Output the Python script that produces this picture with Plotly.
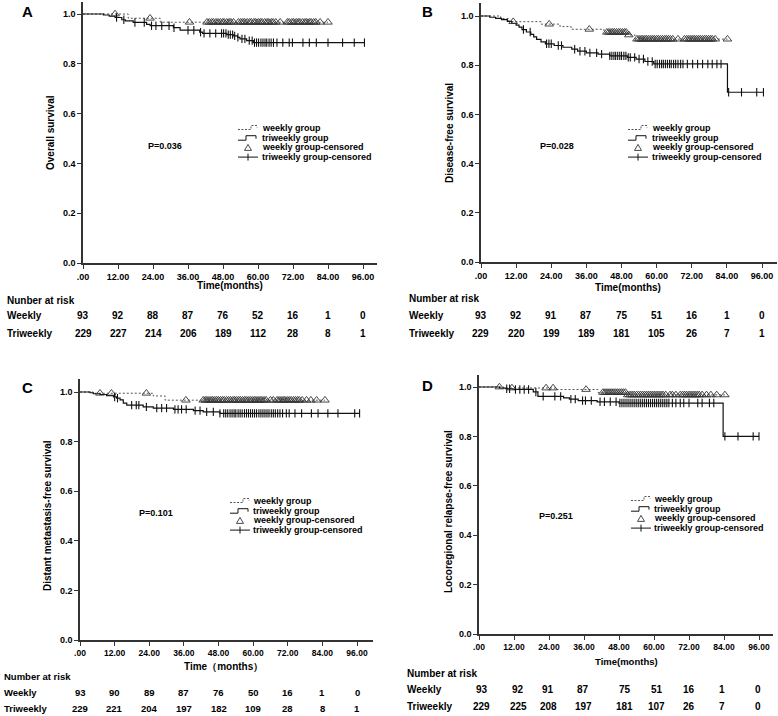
import plotly.graph_objects as go

# ---------------- data ----------------
tick_months = [0, 12, 24, 36, 48, 60, 72, 84, 96]
tick_labels = [".00", "12.00", "24.00", "36.00", "48.00", "60.00", "72.00", "84.00", "96.00"]
y_ticks = [0.0, 0.2, 0.4, 0.6, 0.8, 1.0]

# Panel A - overall survival
A_weekly_t = [15.5, 26.5]
A_weekly_s = [0.983, 0.967]
A_weekly_cens = [11, 23, 36.5, 42.5, 43.3, 44.1, 44.7, 45.6, 46.3, 47.1, 47.9, 48.4, 49.3, 50.1, 50.7, 51.6,
                 53.3, 54.1, 54.8, 55.4, 56.3, 57.1, 57.7, 58.6, 59.2, 60.1, 60.8, 61.4, 62.3, 63.1, 63.7, 64.6,
                 65.2, 66.1, 67.6, 70.1, 70.7, 71.6, 72.2, 73.1, 73.8, 74.4, 75.3, 76.1, 76.7, 77.6, 78.2,
                 79.1, 79.8, 81.3, 84]
A_tri_t = [7, 9, 11, 13.3, 14.5, 17.2, 21.8, 23, 31, 33.3, 40, 41, 49.3, 51.5, 53, 53.8, 56.1, 58.4]
A_tri_s = [0.996, 0.991, 0.986, 0.977, 0.972, 0.966, 0.958, 0.953, 0.945, 0.935, 0.927, 0.922, 0.917,
           0.912, 0.906, 0.9, 0.893, 0.885]
A_tri_cens = [11.5, 14, 17.8, 21, 23.5, 25, 27, 29.5, 31.2, 36, 38, 40.3, 41.5, 43.5, 45.5, 47.5, 48.2, 49,
              49.8, 50.5, 51.3, 52, 53.1, 54.5, 55.5, 57, 58, 58.8, 59.5, 60.2, 61, 61.7, 62.4, 63, 63.8,
              64.5, 65.3, 66.5, 68.5, 70.7, 71.8, 75.4, 77.6, 80, 84, 89, 93, 96.5]
A_risk_weekly = [93, 92, 88, 87, 76, 52, 16, 1, 0]
A_risk_tri = [229, 227, 214, 206, 189, 112, 28, 8, 1]

# Panel B - disease-free survival
B_weekly_t = [6.7, 9.5, 20.5, 27, 30.8, 42, 50.3, 52.6]
B_weekly_s = [0.99, 0.977, 0.967, 0.957, 0.946, 0.934, 0.923, 0.906]
B_weekly_cens = [11, 23.3, 37, 43, 43.7, 44.4, 45, 45.6, 46.3, 47, 47.6, 48.3, 49, 49.6, 50.5, 53.3, 54,
                 54.7, 55.3, 56, 56.6, 57.3, 58, 58.7, 59.3, 60, 60.6, 61.3, 62, 62.7, 63.3, 64, 64.7, 65.5,
                 67.3, 69.5, 70.3, 71, 71.7, 72.4, 73, 73.7, 74.4, 75, 75.7, 76.4, 77, 77.7, 78.4, 79, 80,
                 84.2]
B_tri_t = [3, 5, 7, 9, 10.5, 12, 13, 14, 15.5, 17, 18, 19, 20.5, 22, 25, 28, 31, 33, 36, 40, 44, 50, 53,
           56, 59, 84.2]
B_tri_s = [0.995, 0.99, 0.985, 0.978, 0.97, 0.963, 0.955, 0.945, 0.935, 0.925, 0.915, 0.905, 0.895, 0.887,
           0.88, 0.873, 0.865, 0.857, 0.85, 0.845, 0.838, 0.832, 0.825, 0.815, 0.805, 0.69]
B_tri_cens = [14.5, 16.8, 22.4, 23.2, 24, 26.4, 27.5, 32, 33.8, 35.5, 37.2, 39.5, 41.2, 44, 44.7, 45.4, 46,
              46.7, 47.4, 48, 48.8, 49.5, 50.3, 51, 52.5, 54, 55.5, 57, 58.5, 59.5, 60.2, 61, 61.7, 62.3,
              63, 63.7, 64.4, 65, 65.8, 66.5, 67.3, 68.2, 69, 70.5, 72.3, 74, 75.7, 77.5, 79, 80.6, 82,
              84.6, 89, 94.2, 96.5]
B_risk_weekly = [93, 92, 91, 87, 75, 51, 16, 1, 0]
B_risk_tri = [229, 220, 199, 189, 181, 105, 26, 7, 1]

# Panel C - distant metastasis-free survival
C_weekly_t = [4.6, 25.4, 29.5]
C_weekly_s = [0.995, 0.984, 0.967]
C_weekly_cens = [6.9, 10.9, 23, 36.7, 42.7, 43.4, 44, 44.7, 45.4, 46, 46.7, 47.4, 48, 48.7, 49.4, 50, 50.8,
                 51.5, 52.2, 53, 53.6, 54.3, 55, 55.6, 56.3, 57, 57.6, 58.3, 59, 59.7, 60.4, 61, 61.7, 62.4,
                 63, 63.8, 64.5, 66, 67, 68.3, 69, 69.7, 70.4, 71, 71.8, 72.5, 73.2, 74, 74.7, 75.4, 76, 77,
                 78.5, 80, 82, 84.9]
C_tri_t = [3.5, 4.6, 6.9, 9.2, 11.6, 12.7, 13.9, 15, 16.2, 21.9, 25.4, 32.4, 39.3, 42.7, 48.5]
C_tri_s = [0.997, 0.993, 0.99, 0.985, 0.98, 0.975, 0.968, 0.955, 0.947, 0.94, 0.935, 0.93, 0.925, 0.92,
           0.914]
C_tri_cens = [12, 13, 17.9, 19.5, 20.4, 23, 26.6, 28.3, 30, 32.9, 34, 35.2, 36.8, 39.9, 41.6, 43.9, 46.2,
              48.5, 49.8, 50.5, 51.2, 52, 52.7, 53.4, 54, 54.8, 55.5, 56.2, 57, 57.7, 58.4, 59.1, 59.8,
              60.5, 61.2, 62, 62.7, 63.4, 64.1, 64.8, 65.5, 66.3, 67, 67.7, 68.5, 69.3, 70.2, 71.5, 72.5,
              74.5, 76.8, 80.2, 82.5, 85.9, 89.4, 95.2, 96.9]
C_risk_weekly = [93, 90, 89, 87, 76, 50, 16, 1, 0]
C_risk_tri = [229, 221, 204, 197, 182, 109, 28, 8, 1]

# Panel D - locoregional relapse-free survival
D_weekly_t = [8.5, 26, 40.8, 50.7]
D_weekly_s = [0.996, 0.99, 0.978, 0.968]
D_weekly_cens = [7, 11.3, 23, 25.4, 36.7, 42.5, 43.2, 43.9, 44.6, 45.3, 46, 46.7, 47.4, 48.1, 48.8, 49.5,
                 50.2, 51, 51.8, 52.5, 53.2, 54, 54.7, 55.4, 56.1, 56.8, 57.5, 58.2, 58.9, 59.6, 60.3, 61,
                 61.7, 62.4, 63.1, 64, 65.5, 66.3, 67.5, 69, 69.8, 70.5, 71.2, 72, 72.7, 73.4, 74.1, 74.8,
                 75.5, 76.5, 78, 79.5, 81.5, 84.3]
D_tri_t = [7, 9, 11.7, 18.6, 20.2, 29, 31, 34, 40.5, 48, 83.7]
D_tri_s = [0.996, 0.993, 0.99, 0.98, 0.962, 0.956, 0.951, 0.945, 0.94, 0.935, 0.8]
D_tri_cens = [9.5, 10.5, 12.5, 14, 15.5, 17, 19.5, 22, 26, 28, 31.5, 33, 35.5, 36.5, 38.5, 41.5, 43, 45, 47,
              48.3, 49, 49.7, 50.4, 51.1, 51.8, 52.5, 53.2, 53.9, 54.6, 55.3, 56, 56.7, 57.4, 58.1, 58.8,
              59.5, 60.2, 60.9, 61.6, 62.3, 63, 63.7, 64.4, 65.1, 66.3, 67.5, 69, 70.2, 72, 75, 76.5, 79,
              80.5, 84.3, 88.8, 94, 96]
D_risk_weekly = [93, 92, 91, 87, 75, 51, 16, 1, 0]
D_risk_tri = [229, 225, 208, 197, 181, 107, 26, 7, 0]

legend_labels = ["weekly group", "triweekly group", "weekly group-censored", "triweekly group-censored"]

# ---------------- layout helpers ----------------
W, H = 778, 716
def px(x):
    return x / W
def py(y):
    return 1 - y / H

REG = "Liberation Sans, Arial, sans-serif"

panels = [
    dict(name="A", wt=A_weekly_t, ws=A_weekly_s, wc=A_weekly_cens, tt=A_tri_t, ts=A_tri_s, tc=A_tri_cens,
         rw=A_risk_weekly, rt=A_risk_tri, cols=tick_months,
         x0=83, x96=363, xend=377, y1=14, y0=263, ytop=2,
         ylabel="Overall survival", ylab_xy=(50, 133), xlabel="Time(months)", xlab_xy=(230, 285.5),
         pval="P=0.036", p_xy=(165, 146), letter_xy=(27, 11), leg=(238, 128, 260),
         risk_label="Nunber at risk", risk_x=5, risk_y=(300.5, 316, 333), tick_size=9, risk_size=10,
         xlab_size=10),
    dict(name="B", wt=B_weekly_t, ws=B_weekly_s, wc=B_weekly_cens, tt=B_tri_t, ts=B_tri_s, tc=B_tri_cens,
         rw=B_risk_weekly, rt=B_risk_tri, cols=tick_months,
         x0=481, x96=762, xend=777, y1=16, y0=262, ytop=3,
         ylabel="Disease-free survival", ylab_xy=(449, 133), xlabel="Time(months)", xlab_xy=(628, 287),
         pval="P=0.028", p_xy=(557, 146), letter_xy=(427, 11), leg=(628, 128, 650),
         risk_label="Number at risk", risk_x=407, risk_y=(298.5, 315, 333), tick_size=9, risk_size=10,
         xlab_size=10),
    dict(name="C", wt=C_weekly_t, ws=C_weekly_s, wc=C_weekly_cens, tt=C_tri_t, ts=C_tri_s, tc=C_tri_cens,
         rw=C_risk_weekly, rt=C_risk_tri, cols=tick_months,
         x0=80, x96=357, xend=373, y1=392, y0=640, ytop=379,
         ylabel="Distant metastasis-free survival", ylab_xy=(47, 516), xlabel="Time\uff08months\uff09",
         xlab_xy=(223, 666), pval="P=0.101", p_xy=(156, 513), letter_xy=(27, 387), leg=(230, 501, 251),
         risk_label="Number at risk", risk_x=2, risk_y=(676, 692, 708), tick_size=8.5, risk_size=9.5,
         xlab_size=10),
    dict(name="D", wt=D_weekly_t, ws=D_weekly_s, wc=D_weekly_cens, tt=D_tri_t, ts=D_tri_s, tc=D_tri_cens,
         rw=D_risk_weekly, rt=D_risk_tri, cols=[1, 13.4, 23.7, 35.7, 50, 61, 72, 83.3, 95.6],
         x0=479, x96=759, xend=773, y1=387, y0=634, ytop=375,
         ylabel="Locoregional relapse-free survival", ylab_xy=(448, 512), xlabel="Time(months)",
         xlab_xy=(626, 661), pval="P=0.251", p_xy=(556, 516), letter_xy=(427, 385), leg=(631, 499, 652),
         risk_label="Number at risk", risk_x=405, risk_y=(673, 689, 706), tick_size=8.5, risk_size=10,
         xlab_size=9.5),
]

def step_xy(times, surv, end):
    xs, ys = [0], [1.0]
    for t, s in zip(times, surv):
        xs.append(t)
        ys.append(s)
    xs.append(end)
    ys.append(ys[-1])
    return xs, ys

def surv_at(times, surv, c):
    v = 1.0
    for t, s in zip(times, surv):
        if t <= c:
            v = s
    return v

fig = go.Figure()
annotations = []
shapes = []
LINE_C = "#333333"

for i, p in enumerate(panels):
    k = "" if i == 0 else str(i + 1)
    xa, ya = "x" + k, "y" + k
    ppm = (p["x96"] - p["x0"]) / 96.0
    xmax = (p["xend"] - p["x0"]) / ppm
    ppv = p["y0"] - p["y1"]
    ymax = (p["y0"] - p["ytop"]) / ppv

    # curves
    wx, wy = step_xy(p["wt"], p["ws"], max(p["wc"]))
    tx, ty = step_xy(p["tt"], p["ts"], max(p["tc"]))
    fig.add_trace(go.Scatter(x=wx, y=wy, mode="lines", line=dict(color="#555555", width=1, dash="2px,2px", shape="hv"),
                             xaxis=xa, yaxis=ya, showlegend=False, name=legend_labels[0]))
    fig.add_trace(go.Scatter(x=tx, y=ty, mode="lines", line=dict(color="#111111", width=1.2, shape="hv"),
                             xaxis=xa, yaxis=ya, showlegend=False, name=legend_labels[1]))
    fig.add_trace(go.Scatter(x=p["wc"], y=[surv_at(p["wt"], p["ws"], c) for c in p["wc"]], mode="markers",
                             marker=dict(symbol="triangle-up-open", size=7.5, color="#333333", line=dict(width=0.9)),
                             xaxis=xa, yaxis=ya, showlegend=False, name=legend_labels[2]))
    fig.add_trace(go.Scatter(x=p["tc"], y=[surv_at(p["tt"], p["ts"], c) for c in p["tc"]], mode="markers",
                             marker=dict(symbol="line-ns-open", size=6, color="#111111", line=dict(width=1.1, color="#111111")),
                             xaxis=xa, yaxis=ya, showlegend=False, name=legend_labels[3]))

    axis_common = dict(showgrid=False, zeroline=False, showline=True, linecolor=LINE_C, linewidth=1.5,
                       ticks="outside", ticklen=4, tickwidth=1, tickcolor=LINE_C, automargin=False)
    fig.update_layout(**{
        ("xaxis" + k): dict(axis_common, domain=[px(p["x0"]), px(p["xend"])], range=[0, xmax],
                             tickvals=tick_months, ticktext=tick_labels, anchor=ya,
                             tickfont=dict(family=REG, size=p["tick_size"], color="black", weight="bold")),
        ("yaxis" + k): dict(axis_common, domain=[py(p["y0"]), py(p["ytop"])], range=[0, ymax],
                             tickvals=y_ticks, tickformat=".1f", anchor=xa,
                             tickfont=dict(family=REG, size=9, color="black", weight="bold")),
    })

    # texts
    def ann(text, x, y, size=9, xanchor="center", angle=0, xref="paper"):
        annotations.append(dict(text=text, x=x, y=py(y), xref=xref, yref="paper", xanchor=xanchor,
                                yanchor="middle", showarrow=False, textangle=angle,
                                font=dict(family=REG, size=size, color="black", weight="bold")))

    ann(p["name"], px(p["letter_xy"][0]), p["letter_xy"][1], size=15)
    ann(p["ylabel"], px(p["ylab_xy"][0]), p["ylab_xy"][1], size=10, angle=-90)
    ann(p["xlabel"], px(p["xlab_xy"][0]), p["xlab_xy"][1], size=p["xlab_size"])
    ann(p["pval"], px(p["p_xy"][0]), p["p_xy"][1], size=9)
    ry = p["risk_y"]
    rs = p["risk_size"]
    ann(p["risk_label"], px(p["risk_x"]), ry[0], size=rs, xanchor="left")
    ann("Weekly", px(p["risk_x"]), ry[1], size=rs, xanchor="left")
    ann("Triweekly", px(p["risk_x"]), ry[2], size=rs, xanchor="left")
    for c, vw, vt in zip(p["cols"], p["rw"], p["rt"]):
        ann(str(vw), c, ry[1], size=rs, xref=xa)
        ann(str(vt), c, ry[2], size=rs, xref=xa)

    # legend (drawn inside the panel)
    lx, ly, tx0 = p["leg"]
    gap = 9.7
    for j, lab in enumerate(legend_labels):
        ann(lab, px(tx0), ly + j * gap, size=9, xanchor="left")
    def path(pts):
        return "M " + " L ".join(f"{px(a):.5f},{py(b):.5f}" for a, b in pts)
    shapes.append(dict(type="path", xref="paper", yref="paper",
                       path=path([(lx, ly + 1.5), (lx + 13, ly + 1.5), (lx + 13, ly - 2.5), (lx + 19, ly - 2.5), (lx + 19, ly - 0.5)]),
                       line=dict(color="#555555", width=1, dash="2px,1.5px")))
    y2 = ly + gap
    shapes.append(dict(type="path", xref="paper", yref="paper",
                       path=path([(lx, y2 + 2.5), (lx + 8, y2 + 2.5), (lx + 8, y2 - 2), (lx + 18, y2 - 2), (lx + 18, y2 + 1)]),
                       line=dict(color="#111111", width=1)))
    y3 = ly + 2 * gap
    shapes.append(dict(type="path", xref="paper", yref="paper",
                       path=path([(lx + 6.5, y3 + 3), (lx + 10, y3 - 3), (lx + 13.5, y3 + 3)]) + " Z",
                       line=dict(color="#333333", width=0.9)))
    y4 = ly + 3 * gap
    shapes.append(dict(type="line", xref="paper", yref="paper", x0=px(lx), x1=px(lx + 20), y0=py(y4), y1=py(y4),
                       line=dict(color="#111111", width=1)))
    shapes.append(dict(type="line", xref="paper", yref="paper", x0=px(lx + 10), x1=px(lx + 10), y0=py(y4 - 3.5),
                       y1=py(y4 + 3.5), line=dict(color="#111111", width=1)))

fig.update_layout(template="none", width=W, height=H, margin=dict(l=0, r=0, t=0, b=0), plot_bgcolor="white",
                  paper_bgcolor="white", showlegend=False, annotations=annotations, shapes=shapes)

fig.write_html("out.html", config={"displayModeBar": False},
               post_script="document.body.style.margin='0';document.body.style.overflow='hidden';")
